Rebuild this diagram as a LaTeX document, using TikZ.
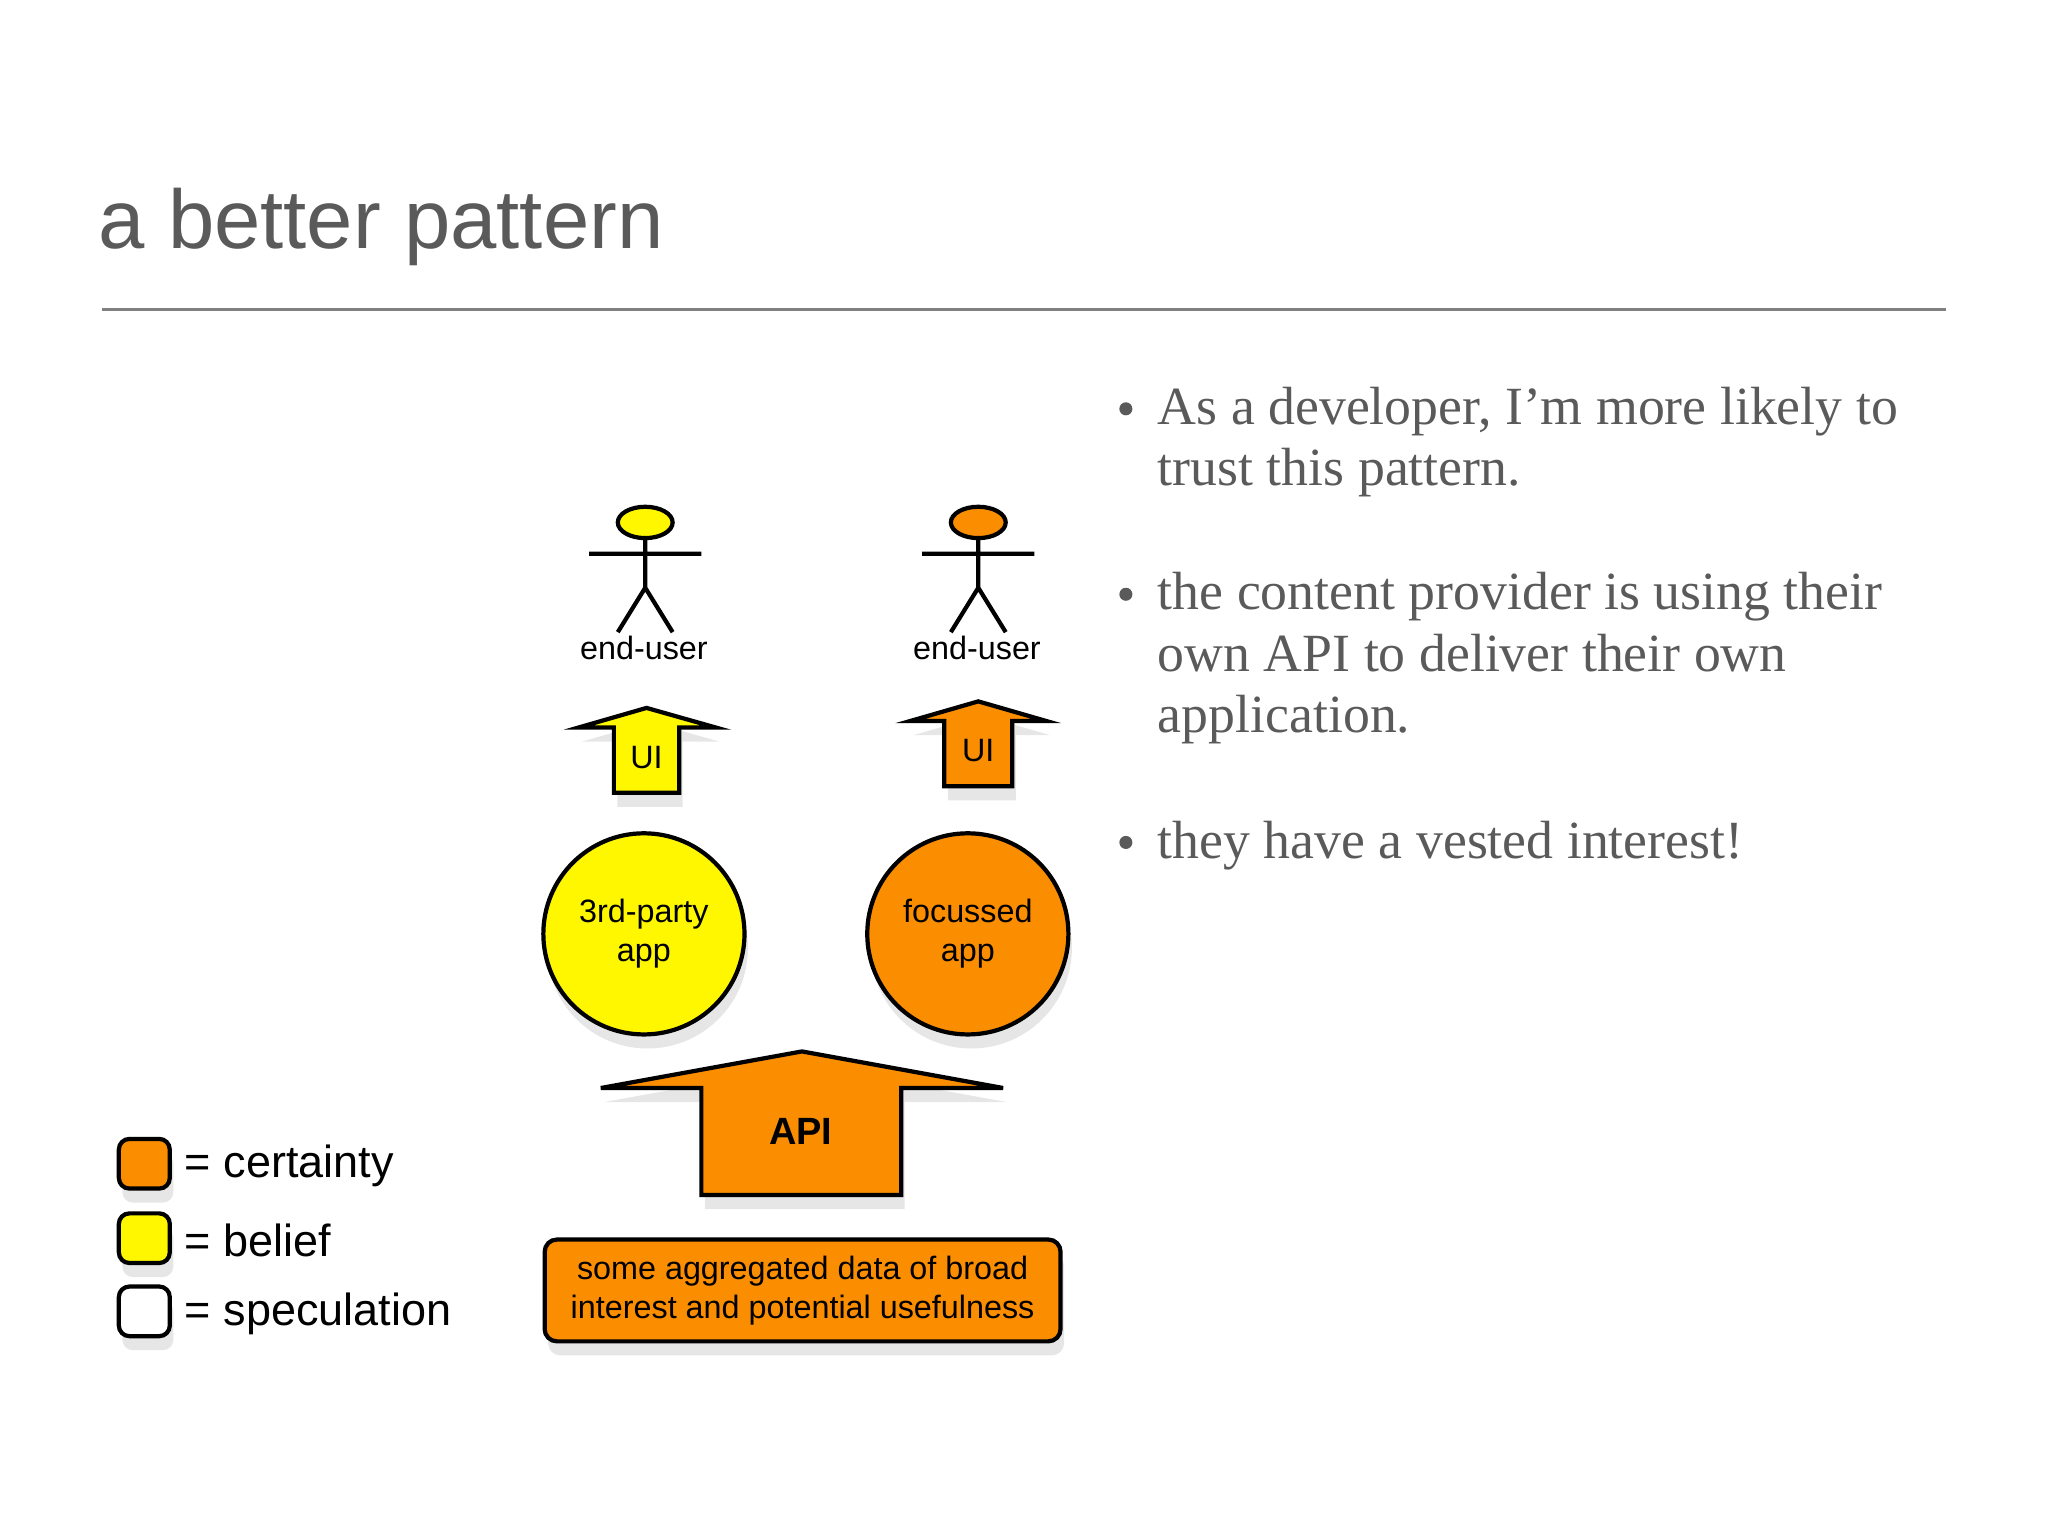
\documentclass[tikz,border=0pt]{standalone}
\usepackage{fontspec}
\setmainfont{Liberation Sans}
\newfontfamily\serifb{Liberation Serif}
\usetikzlibrary{shadows}
\definecolor{org}{HTML}{FB8D00}
\definecolor{yel}{HTML}{FFF700}
\definecolor{txtgray}{HTML}{5A5A5A}
\begin{document}
\begin{tikzpicture}[x=0.01306cm,y=-0.01306cm,
  shp/.style={draw=black,line width=1.2pt,drop shadow={opacity=0.2,shadow xshift=1pt,shadow yshift=-4pt}},
  lbl/.style={font=\fontsize{9.2pt}{11pt}\selectfont,align=center},
  bul/.style={anchor=base west,text=txtgray,font=\serifb\fontsize{15.3pt}{18pt}\selectfont,inner sep=0},
  leg/.style={anchor=west,font=\fontsize{12.8pt}{15pt}\selectfont,inner sep=0}]
\useasboundingbox (0,0) rectangle (1568,1176);
\node[anchor=base west,text=txtgray,font=\fontsize{23.7pt}{28pt}\selectfont,inner sep=0] (title) at (75,190) {a better pattern};
\coordinate (l1) at (78,237); \coordinate (l2) at (1490,237);
\draw[gray,line width=0.8pt] (l1) -- (l2);
% bullets
\foreach \y in {313,455,645} \fill[txtgray] (862,\y) circle (5);
\node[bul] (b1) at (886,325) {As a developer, I’m more likely to};
\node[bul] (b2) at (886,372) {trust this pattern.};
\node[bul] (b3) at (886,467) {the content provider is using their};
\node[bul] (b4) at (886,514) {own API to deliver their own};
\node[bul] (b5) at (886,561) {application.};
\node[bul] (b6) at (886,657) {they have a vested interest!};
% stick figures
\foreach \x/\c/\n in {494/yel/a,749/org/b}{
  \draw[line width=1.2pt] (\x,412) -- (\x,450) (\x-43,424) -- (\x+43,424) (\x-21,484) -- (\x,450) -- (\x+21,484);
  \draw[line width=1.2pt,fill=\c] (\x,400) ellipse (21 and 12);
}
\node[lbl] (eu1) at (493,496) {end-user};
\node[lbl] (eu2) at (748,496) {end-user};
% UI arrows
\draw[shp,fill=yel] (495,542) -- (548,557) -- (520,557) -- (520,607) -- (470,607) -- (470,557) -- (443,557) -- cycle;
\node[lbl] (ui1) at (495,580) {UI};
\draw[shp,fill=org] (749,537) -- (801,552) -- (775,552) -- (775,602) -- (723,602) -- (723,552) -- (697,552) -- cycle;
\node[lbl] (ui2) at (749,575) {UI};
% circles
\node[shp,circle,fill=yel,minimum size=154*0.01306cm,inner sep=0,lbl] (c1) at (493,715) {3rd-party\\app};
\node[shp,circle,fill=org,minimum size=154*0.01306cm,inner sep=0,lbl] (c2) at (741,715) {focussed\\app};
% API arrow
\draw[shp,fill=org] (614,805) -- (768,833) -- (690,833) -- (690,915) -- (537,915) -- (537,833) -- (460,833) -- cycle;
\node[font=\bfseries\fontsize{10.8pt}{13pt}\selectfont] (api) at (613,866) {API};
% data box
\node[shp,fill=org,rounded corners=3.5pt,minimum width=395*0.01306cm,minimum height=78*0.01306cm,lbl] (data) at (614.5,988) {some aggregated data of broad\\interest and potential usefulness};
% legend
\foreach \y/\c/\n in {891/org/certainty,948/yel/belief,1004/white/speculation}{
  \draw[shp,fill=\c,rounded corners=3pt] (91,\y-19) rectangle (130,\y+19);
  \node[leg] at (141,\y+2) {= \n};
}
\end{tikzpicture}
\end{document}
